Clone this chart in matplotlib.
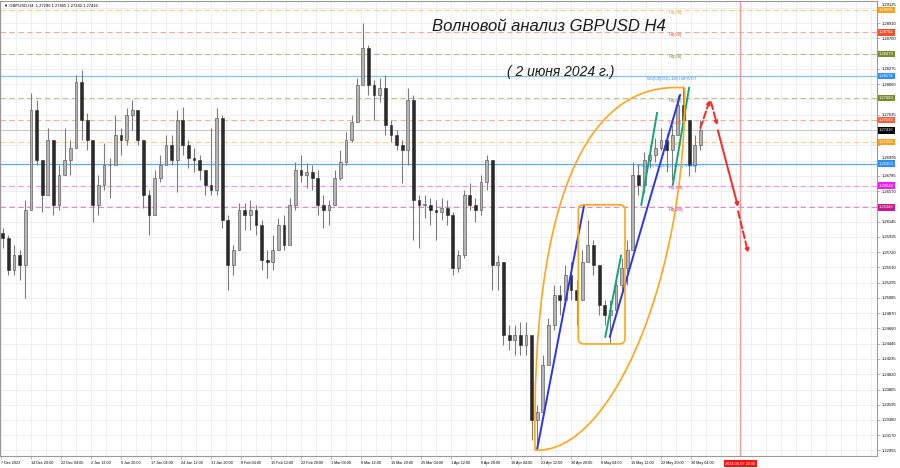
import matplotlib.pyplot as plt
import matplotlib.transforms as mtransforms
import numpy as np
from matplotlib.patches import FancyBboxPatch, PathPatch
from matplotlib.path import Path

# daily GBPUSD bars, oldest first
highs = [1.2606, 1.2596, 1.2582, 1.2575, 1.2645, 1.2794, 1.2784, 1.2687, 1.2745, 1.2728,
         1.2693, 1.2745, 1.2728, 1.2819, 1.2826, 1.2766, 1.2728, 1.2680, 1.2724, 1.2703,
         1.2763, 1.2745, 1.2773, 1.2784, 1.2767, 1.2728, 1.2659, 1.2687, 1.2707, 1.2735,
         1.2735, 1.2770, 1.2774, 1.2728, 1.2717, 1.2707, 1.2687, 1.2745, 1.2773, 1.2763,
         1.2624, 1.2582, 1.2640, 1.2640, 1.2645, 1.2638, 1.2617, 1.2575, 1.2596, 1.2620,
         1.2624, 1.2648, 1.2698, 1.2707, 1.2696, 1.2693, 1.2687, 1.2652, 1.2645, 1.2687,
         1.2714, 1.2740, 1.2763, 1.2815, 1.2891, 1.2861, 1.2812, 1.2815, 1.2819, 1.2756,
         1.2742, 1.2728, 1.2801, 1.2791, 1.2652, 1.2652, 1.2648, 1.2645, 1.2648, 1.2645,
         1.2628, 1.2575, 1.2659, 1.2668, 1.2648, 1.2680, 1.2707, 1.2700, 1.2568, 1.2558,
         1.2470, 1.2470, 1.2475, 1.2475, 1.2456, 1.2359, 1.2429, 1.2480, 1.2526, 1.2526,
         1.2554, 1.2558, 1.2533, 1.2575, 1.2617, 1.2589, 1.2554, 1.2505, 1.2505, 1.2540,
         1.2564, 1.2589, 1.2698, 1.2693, 1.2712, 1.2721, 1.2731, 1.2745, 1.2738, 1.2749,
         1.2791, 1.2804, 1.2749, 1.2735, 1.2756]
lows = [1.2578, 1.2540, 1.2540, 1.2533, 1.2508, 1.2638, 1.2693, 1.2628, 1.2652, 1.2624,
        1.2631, 1.2687, 1.2680, 1.2721, 1.2728, 1.2714, 1.2614, 1.2624, 1.2659, 1.2648,
        1.2707, 1.2707, 1.2721, 1.2742, 1.2721, 1.2634, 1.2596, 1.2624, 1.2670, 1.2693,
        1.2693, 1.2656, 1.2707, 1.2689, 1.2684, 1.2673, 1.2652, 1.2652, 1.2652, 1.2606,
        1.2519, 1.2540, 1.2596, 1.2603, 1.2603, 1.2596, 1.2547, 1.2536, 1.2547, 1.2575,
        1.2575, 1.2582, 1.2631, 1.2670, 1.2661, 1.2659, 1.2624, 1.2606, 1.2610, 1.2638,
        1.2673, 1.2693, 1.2726, 1.2753, 1.2805, 1.2791, 1.2756, 1.2781, 1.2735, 1.2726,
        1.2714, 1.2668, 1.2693, 1.2589, 1.2578, 1.2620, 1.2610, 1.2589, 1.2617, 1.2610,
        1.2540, 1.2544, 1.2564, 1.2631, 1.2614, 1.2624, 1.2659, 1.2519, 1.2519, 1.2443,
        1.2436, 1.2429, 1.2429, 1.2429, 1.2310, 1.2300, 1.2345, 1.2415, 1.2463, 1.2484,
        1.2498, 1.2505, 1.2470, 1.2505, 1.2558, 1.2540, 1.2484, 1.2470, 1.2445, 1.2491,
        1.2519, 1.2526, 1.2575, 1.2652, 1.2655, 1.2689, 1.2698, 1.2714, 1.2684, 1.2673,
        1.2735, 1.2745, 1.2678, 1.2684, 1.2714]
closes = [1.2592, 1.2547, 1.2568, 1.2554, 1.2631, 1.2770, 1.2700, 1.2652, 1.2728, 1.2638,
          1.2680, 1.2700, 1.2717, 1.2809, 1.2756, 1.2728, 1.2638, 1.2666, 1.2693, 1.2693,
          1.2735, 1.2728, 1.2763, 1.2770, 1.2728, 1.2652, 1.2624, 1.2675, 1.2693, 1.2721,
          1.2700, 1.2756, 1.2721, 1.2703, 1.2700, 1.2687, 1.2666, 1.2659, 1.2759, 1.2617,
          1.2554, 1.2575, 1.2631, 1.2624, 1.2631, 1.2610, 1.2561, 1.2558, 1.2575, 1.2610,
          1.2582, 1.2638, 1.2687, 1.2680, 1.2684, 1.2675, 1.2638, 1.2631, 1.2638, 1.2675,
          1.2698, 1.2728, 1.2753, 1.2805, 1.2857, 1.2805, 1.2791, 1.2801, 1.2749, 1.2735,
          1.2721, 1.2714, 1.2784, 1.2645, 1.2638, 1.2638, 1.2631, 1.2628, 1.2634, 1.2624,
          1.2550, 1.2568, 1.2652, 1.2638, 1.2631, 1.2670, 1.2700, 1.2554, 1.2558, 1.2456,
          1.2450, 1.2456, 1.2443, 1.2456, 1.2338, 1.2349, 1.2415, 1.2470, 1.2512, 1.2505,
          1.2540, 1.2519, 1.2505, 1.2558, 1.2582, 1.2554, 1.2498, 1.2484, 1.2491, 1.2526,
          1.2550, 1.2575, 1.2680, 1.2666, 1.2700, 1.2707, 1.2717, 1.2728, 1.2714, 1.2735,
          1.2777, 1.2756, 1.2693, 1.2721, 1.27416]
first_open = 1.2598

date_labels = ["7 Dec 2023", "14 Dec 20:00", "22 Dec 04:00", "2 Jan 12:00", "9 Jan 20:00",
               "17 Jan 04:00", "24 Jan 12:00", "31 Jan 20:00", "8 Feb 04:00", "15 Feb 12:00",
               "22 Feb 20:00", "1 Mar 04:00", "8 Mar 12:00", "15 Mar 20:00", "25 Mar 04:00",
               "1 Apr 12:00", "8 Apr 20:00", "16 Apr 04:00", "23 Apr 12:00", "30 Apr 20:00",
               "8 May 04:00", "15 May 12:00", "22 May 20:00", "30 May 04:00"]
marker_label = "2024.06.07 20:00"

price_ticks = [1.22955, 1.23170, 1.23380, 1.23595, 1.23805, 1.24020, 1.24235, 1.24445,
               1.24660, 1.24870, 1.25085, 1.25295, 1.25510, 1.25720, 1.25935, 1.26145,
               1.26360, 1.26570, 1.26785, 1.26995, 1.27210, 1.27425, 1.27635, 1.27850,
               1.28060, 1.28275, 1.28485, 1.28700, 1.28910, 1.29125]
# scale labels covered by the coloured price tags
hidden_ticks = [1.26360, 1.27210, 1.27425, 1.27850, 1.28485]

levels = [1.29095, 1.28784, 1.28479, 1.28174, 1.27869, 1.27563, 1.27258, 1.26953, 1.26648, 1.26343]
level_names = ["H4[7/8]", "H4[6/8]", "H4[5/8]", "W1[5/8] D1[+1/8] H4PIVOT", "H4[3/8]",
               "H4[2/8]", "H4[1/8]", "MN1[5/8] W1[4/8] D1[0/8] H4SUP", "H4[-1/8]", "H4[-2/8]"]
level_colors = ["#f5a11c", "#f0502a", "#7a8a30", "#2e8ff0", "#7a8a30",
                "#f5603a", "#f5a11c", "#2e8ff0", "#f020f0", "#c8188c"]
last_price = 1.27416

# hand-drawn wave markup, (bar, price)
blue_waves = [((95.0, 1.2298), (103.3, 1.2636)), ((107.9, 1.2454), (120.4, 1.2791))]
green_waves = [((107.1, 1.2454), (109.9, 1.2567)), ((113.5, 1.2638), (116.3, 1.2766)),
               ((119.1, 1.2666), (122.0, 1.2801))]
box_corner = (102.3, 1.2444)
box_size = (8.3, 0.0194)
arc_left = [(94.6, 1.2296), (94.0, 1.2640), (103.5, 1.2812), (121.2, 1.2801)]
arc_right = [(94.6, 1.2296), (108.5, 1.2290), (121.6, 1.2545), (121.2, 1.2801)]
forecast = [((124.0, 1.2745), (125.7, 1.2784), "--"), ((125.9, 1.2781), (127.0, 1.2749), "--"),
            ((127.1, 1.2742), (130.7, 1.2635), "-"), ((130.7, 1.2629), (132.5, 1.2571), "--")]
marker_bar = 131.06

small = dict(family=["Liberation Sans", "DejaVu Sans"])

fig = plt.figure(figsize=(9, 4.68), dpi=100)
ax = fig.add_axes([0.0, 12 / 468, 877 / 900, 455 / 468])
bars_per_label = 32 / 6
ax.set_xlim(-0.5, 155.4)
ax.set_ylim(1.22878, 1.29221)

# grid
label_pos = [-0.32 + i * bars_per_label for i in range(len(date_labels))]
for k in range(60):
    ax.axvline(-0.32 + k * bars_per_label / 2, color="#ececec", lw=0.6, zorder=0)
for p in price_ticks:
    ax.axhline(p, color="#ececec", lw=0.6, zorder=0)

# levels
for lv, nm, col in zip(levels, level_names, level_colors):
    if "H4PIVOT" in nm or "H4SUP" in nm:
        ax.axhline(lv, color=col, lw=0.9, alpha=0.55 if "PIVOT" in nm else 0.75, zorder=1)
        xt = 114.5 if "PIVOT" in nm else 112.7
    else:
        ax.axhline(lv, color=col, lw=0.8, ls=(0, (5, 3)), alpha=0.5, zorder=1)
        xt = 118.3
    ax.text(xt, lv - 0.00008, nm, color=col, fontsize=3.0, va="top", ha="left", zorder=5, **small)
ax.axhline(last_price, color="#c4c4c4", lw=0.7, zorder=1)
ax.axvline(marker_bar, color="#f29a9a", lw=1.0, zorder=1)

# candles
x = np.arange(len(closes))
c = np.array(closes)
o = np.array([first_open] + closes[:-1])
hi = np.maximum(np.array(highs), np.maximum(o, c))
lo = np.minimum(np.array(lows), np.minimum(o, c))
up = c >= o
ax.vlines(x, lo, hi, color="#7c7c7c", lw=0.8, zorder=2)
bottom = np.minimum(o, c)
height = np.maximum(np.abs(c - o), 0.00006)
ax.bar(x[up], height[up], bottom=bottom[up], width=0.5, color="#b4b4b4",
       edgecolor="#4a4a4a", lw=0.4, zorder=3)
ax.bar(x[~up], height[~up], bottom=bottom[~up], width=0.5, color="#2a2a2a",
       edgecolor="#2a2a2a", lw=0.4, zorder=3)

# wave markup
for a, b in blue_waves:
    ax.plot([a[0], b[0]], [a[1], b[1]], color="#2b36e6", lw=1.4, zorder=6)
for a, b in green_waves:
    ax.plot([a[0], b[0]], [a[1], b[1]], color="#12a57a", lw=1.4, zorder=6)
codes = [Path.MOVETO, Path.CURVE4, Path.CURVE4, Path.CURVE4]
for pts in (arc_left, arc_right):
    ax.add_patch(PathPatch(Path(pts, codes), fill=False, ec="#ffa61a", lw=1.2, zorder=6))
ax.add_patch(FancyBboxPatch(box_corner, box_size[0], box_size[1],
                            boxstyle="round,pad=0,rounding_size=1.0", mutation_aspect=0.00078,
                            fill=False, ec="#ffa61a", lw=1.2, zorder=6))
for a, b, ls in forecast:
    ax.annotate("", xy=b, xytext=a,
                arrowprops=dict(arrowstyle="-|>", color="#ff2626", lw=1.4, ls=ls,
                                mutation_scale=5, shrinkA=0, shrinkB=0), zorder=7)

# titles
ax.text(97.0, 1.28859, "Волновой анализ GBPUSD H4", fontsize=12, style="italic",
        ha="center", va="center", family="Liberation Sans", color="#1a1a1a")
ax.text(99.2, 1.28231, "( 2 июня 2024 г.)", fontsize=10, style="italic",
        ha="center", va="center", family="Liberation Sans", color="#1a1a1a")
ax.text(0.004, 0.991, "▼ GBPUSD,H4  1.27296 1.27465 1.27242 1.27416", transform=ax.transAxes,
        fontsize=3.0, va="center", ha="left", **small)

# axes
for s in ax.spines.values():
    s.set_color("#9a9a9a")
    s.set_linewidth(0.8)
ax.yaxis.tick_right()
ax.set_yticks(price_ticks)
ax.set_yticklabels(["" if p in hidden_ticks else f"{p:.5f}" for p in price_ticks],
                   fontsize=3.0, family="Liberation Sans")
ax.tick_params(axis="y", length=2, width=0.5, pad=1.5, colors="#9a9a9a", labelcolor="black")
# nudge scale labels that sit right next to a price tag
for p, lab in zip(price_ticks, ax.get_yticklabels()):
    near = min(abs(p - lv) for lv in levels)
    if near < 0.0006:
        shift = 3 if p > min(levels, key=lambda lv: abs(p - lv)) else -3
        lab.set_transform(lab.get_transform() + mtransforms.ScaledTranslation(0, shift / 100, fig.dpi_scale_trans))
ax.set_xticks(label_pos)
ax.set_xticklabels(date_labels, fontsize=2.7, family="Liberation Sans", ha="left")
ax.tick_params(axis="x", length=2, width=0.5, pad=1.5, colors="#9a9a9a", labelcolor="black")

ytr = mtransforms.blended_transform_factory(ax.transAxes, ax.transData)
for lv, col in zip(levels + [last_price], level_colors + ["#000000"]):
    ax.text(1.0 + 2 / 877, lv, f"{lv:.5f}", transform=ytr, fontsize=3.0, color="white",
            va="center", ha="left", zorder=8, clip_on=False, family="Liberation Sans",
            bbox=dict(boxstyle="square,pad=0.3", fc=col, ec="none"))
xtr = mtransforms.blended_transform_factory(ax.transData, ax.transAxes)
ax.text(marker_bar, -0.017, marker_label, transform=xtr, fontsize=2.8, color="white",
        va="center", ha="center", zorder=8, clip_on=False, family="Liberation Sans",
        bbox=dict(boxstyle="square,pad=0.35", fc="#ff1010", ec="none"))

fig.savefig("out.png", dpi=100)
